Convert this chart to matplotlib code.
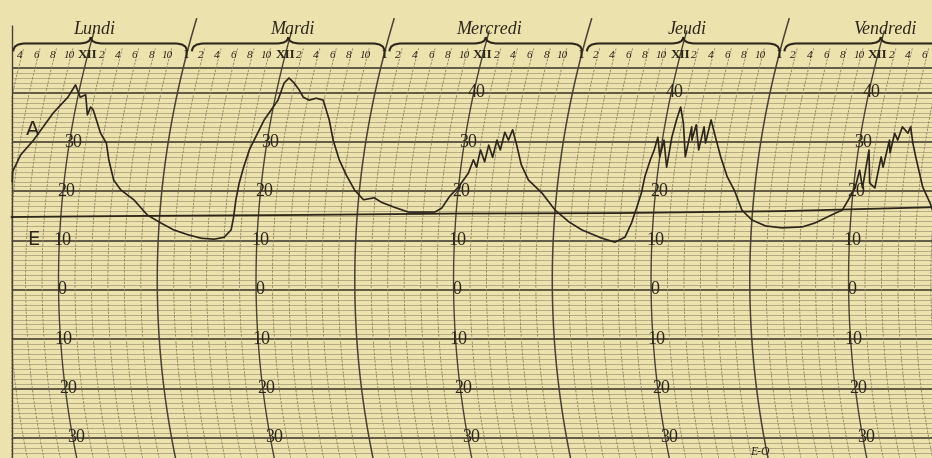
import numpy as np
import matplotlib.pyplot as plt
from matplotlib.path import Path
from matplotlib.patches import PathPatch

plt.rcParams['font.family'] = ['Liberation Serif', 'DejaVu Serif']

# jours de la semaine et graduations
jours = ['Lundi', 'Mardi', 'Mercredi', 'Jeudi', 'Vendredi']
heures_pas = [2, 4, 6, 8, 10, 12, 14, 16, 18, 20, 22, 24]
heures_labels = ['2', '4', '6', '8', '10', 'XII', '2', '4', '6', '8', '10', 'I']
temp_ticks = [40, 30, 20, 10, 0, -10, -20, -30]
temp_labels = ['40', '30', '20', '10', '0', '10', '20', '30']

# courbe A : heures depuis lundi 0h, degrés
a_heures = [5.7, 5.6, 6.3, 7.6, 8.5, 9.4, 10.8, 11.4, 12.3, 12.9, 13.6, 13.8, 14.2, 15.6,
            16.5, 17.1, 18.0, 19.0, 20.7, 22.5, 24.2, 25.8, 27.6, 29.2, 30.8, 32.0, 32.8,
            33.0, 33.1, 33.3, 33.6, 34.0,
            34.4, 35.2, 36.4, 36.7, 37.15, 37.9, 38.7, 39.4, 40.2, 41.0, 41.9,
            43.1, 44.0, 45.1, 46.2, 47.4, 48.6, 49.9, 50.8, 52.4, 54.2, 55.8, 57.4, 58.2,
            59.0, 60.0, 61.0,
            61.4, 61.9, 62.1, 62.8, 63.0, 63.7, 63.9, 64.5, 64.7, 65.3, 65.6, 66.4, 67.3,
            68.4, 70.2, 72.0, 73.8, 75.4, 77.9, 79.5, 80.7, 81.4, 81.9, 82.3, 82.5, 82.9, 83.2,
            83.4, 84.0, 84.2, 85.0, 85.1, 85.3, 85.5, 86.2, 87.1, 87.3, 87.6, 87.8, 88.6,
            88.8, 89.3, 89.5, 90.4, 91.4, 92.5, 93.6,
            94.7, 96.0, 97.7, 99.7, 102.2, 103.7, 104.9, 106.1, 106.9,
            107.7, 108.2, 108.5, 109.1, 109.3, 109.9, 110.6, 110.9, 111.3, 111.6, 111.9,
            112.1, 112.6, 112.9, 113.7, 113.9, 114.5, 115.1, 116.4, 117.5, 118.2]
a_temp = [22.0, 24.0, 27.4, 30.4, 33.1, 35.9, 39.1, 41.6, 39.1, 39.6, 35.5, 37.1, 36.5, 31.8,
          29.8, 26.4, 22.3, 20.3, 18.3, 15.2, 13.6, 12.2, 11.2, 10.5, 10.3, 10.7, 12.2,
          14.8, 18.3, 21.7, 24.9, 28.4,
          30.4, 34.5, 38.5, 42.0, 43.0, 42.0, 40.6, 39.1, 38.5, 38.9, 38.5,
          34.5, 30.4, 26.4, 23.3, 20.3, 18.3, 18.7, 17.8, 16.8, 15.8, 15.8, 15.8, 16.6,
          18.9, 20.9, 23.7,
          26.4, 24.9, 28.4, 26.0, 29.4, 26.9, 30.4, 28.4, 32.0, 30.4, 32.5, 29.4, 25.4,
          22.3, 19.7, 16.2, 13.8, 12.2, 10.5, 9.7, 10.7, 13.6, 16.8, 19.7, 23.0, 26.4, 28.4,
          31.0, 27.0, 30.4, 24.9, 31.0, 34.5, 37.1, 33.9, 27.0, 33.1, 30.4, 33.5, 28.4,
          33.1, 29.8, 34.5, 31.0, 27.0, 23.0, 20.1,
          16.2, 14.2, 13.0, 12.6, 12.8, 13.6, 14.6, 15.6, 16.2,
          18.9, 20.7, 24.3, 20.7, 28.4, 21.7, 20.7, 27.0, 24.9, 30.4, 27.8,
          31.8, 30.4, 33.1, 31.8, 33.1, 29.8, 27.0, 20.9, 17.6, 14.8]

# courbe E
e_heures = [6.3, 20.0, 40.0, 60.0, 80.0, 100.0, 118.5]
e_temp = [14.8, 15.0, 15.2, 15.5, 15.6, 16.0, 16.8]

papier = '#ece2ae'
encre = '#2e2719'
trait_fin = '#8c8262'
trait_fort = '#4a4232'

# courbure des arcs horaires (plume du thermographe)
def arc(t):
    return 0.0017 * (np.asarray(t, dtype=float) - 2.0) ** 2

fig = plt.figure(figsize=(9.32, 4.58), dpi=100, facecolor=papier)
ax = fig.add_axes([0, 0, 1, 1])
ax.set_facecolor(papier)
ax.set_xlim(4.89, 118.14)
ax.set_ylim(-34.08, 58.82)
ax.axis('off')

bord = 6.3  # bord gauche de la feuille

# lignes horizontales (1 degré)
for t in range(-34, 46):
    if t % 10 == 0 or t == 45:
        ax.hlines(t, bord, 120, color=trait_fort, lw=1.2, zorder=2)
    else:
        ax.hlines(t, bord, 120, color=trait_fin, lw=0.5, alpha=0.8, zorder=1)

# arcs horaires
for h in range(0, 122, 2):
    if h % 24 == 0:
        haut, lw, col, ls = 55.0, 1.1, trait_fort, '-'
    elif h % 12 == 0:
        haut, lw, col, ls = 52.5, 1.0, trait_fort, '-'
    else:
        haut, lw, col, ls = 49.0, 0.6, trait_fin, (0, (3, 1.5))
    tt = np.linspace(-35, haut, 120)
    xx = h + arc(tt)
    ok = xx > bord
    ax.plot(xx[ok], tt[ok], color=col, lw=lw, ls=ls, zorder=2)

ax.vlines(bord, -35, 53.8, color=trait_fort, lw=1.0, zorder=3)

# en-tête : noms des jours, accolades, heures
for d, nom in enumerate(jours):
    midi = 24 * d + 12
    ax.text(midi + arc(52.7), 52.9, nom, style='italic', fontsize=13,
            ha='center', va='center', color=encre, zorder=4)
    x0 = max(24 * d + arc(50.0) + 0.3, bord + 0.2)
    x1 = 24 * (d + 1) + arc(50.0) - 0.3
    xm = midi + arc(50.0)
    yb = 50.0
    verts = [(x0, yb - 1.6), (x0, yb), (x0 + 1.5, yb), (xm - 1.5, yb), (xm, yb), (xm, yb + 1.3),
             (xm, yb), (xm + 1.5, yb), (x1 - 1.5, yb), (x1, yb), (x1, yb - 1.6)]
    codes = [Path.MOVETO, Path.CURVE3, Path.CURVE3, Path.LINETO, Path.CURVE3, Path.CURVE3,
             Path.CURVE3, Path.CURVE3, Path.LINETO, Path.CURVE3, Path.CURVE3]
    ax.add_patch(PathPatch(Path(verts, codes), fill=False, ec=encre, lw=1.5, zorder=4))
    for h, lab in zip(heures_pas, heures_labels):
        x = 24 * d + h + arc(47.7)
        if x < bord + 0.8 or x > 118.5:
            continue
        if lab in ('XII', 'I'):
            ax.text(x, 47.6, lab, fontsize=9.5, fontweight='bold', ha='center', va='center',
                    color=encre, zorder=4)
        else:
            ax.text(x - 0.3, 47.6, lab, style='italic', fontsize=8, ha='center',
                    va='center', color=encre, zorder=4)

# graduations de température le long des arcs de midi
sauter = {(0, 40), (1, 40), (3, 30)}
for d in range(len(jours)):
    midi = 24 * d + 12
    for t, lab in zip(temp_ticks, temp_labels):
        if (d, t) in sauter:
            continue
        ax.text(midi + arc(t) + 0.4, t, lab, fontsize=13, ha='center', va='center',
                color=encre, zorder=4)

# tracés
ax.plot(e_heures, e_temp, color=encre, lw=1.3, zorder=5)
ax.plot(np.array(a_heures) + arc(a_temp), a_temp, color=encre, lw=1.2, zorder=5)

ax.text(8.8, 32.5, 'A', family='DejaVu Sans', fontsize=14, ha='center', va='center',
        color=encre, zorder=4)
ax.text(8.9, 10.3, 'E', family='DejaVu Sans', fontsize=14, ha='center', va='center',
        color=encre, zorder=4)
ax.text(97.2, -32.9, 'E-O', style='italic', fontsize=8.5, ha='center', va='center',
        color=encre, zorder=4)

fig.savefig('out.png', dpi=100, facecolor=papier)
